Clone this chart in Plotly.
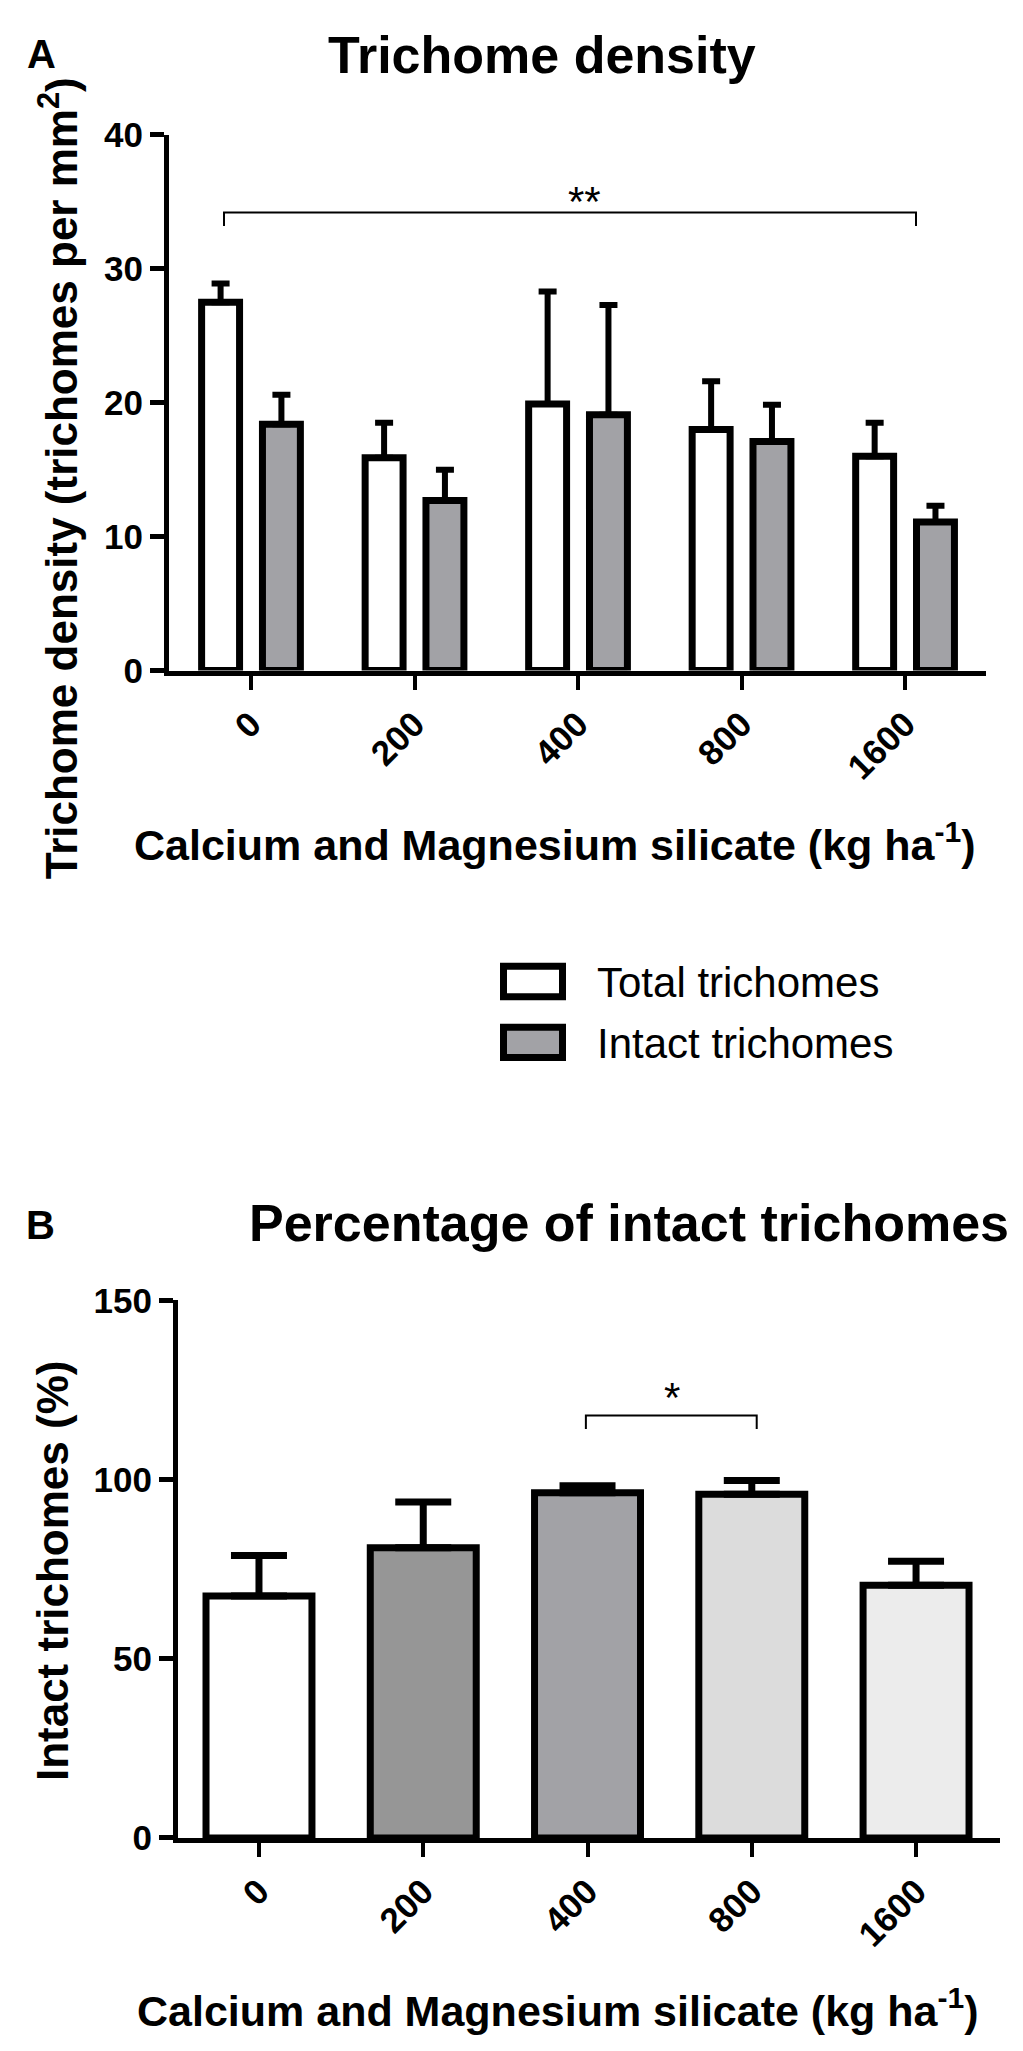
import plotly.graph_objects as go

# values
doses = ["0", "200", "400", "800", "1600"]
total = [27.5, 15.9, 19.9, 18.0, 16.0]
total_err = [1.4, 2.6, 8.4, 3.6, 2.5]
intact = [18.4, 12.7, 19.1, 17.1, 11.1]
intact_err = [2.2, 2.3, 8.2, 2.75, 1.2]
pct = [67.5, 81.0, 96.3, 95.9, 70.5]
pct_err = [11.3, 12.7, 2.0, 3.8, 6.7]
pct_colors = ["#ffffff", "#969696", "#a2a2a6", "#dcdcdc", "#ececec"]

W, H = 1023, 2051
FONT = "Liberation Sans, Arial, Helvetica, sans-serif"


def px(x):
    return x / W


def py(y):
    return (H - y) / H


fig = go.Figure()

# panel A
fig.add_trace(go.Bar(
    x=doses, y=total, name="Total trichomes", offset=-0.302, width=0.232,
    marker=dict(color="white", line=dict(color="black", width=7)),
    error_y=dict(type="data", symmetric=False, array=total_err, arrayminus=[0] * 5,
                 color="black", thickness=6, width=9),
    xaxis="x", yaxis="y", showlegend=False))
fig.add_trace(go.Bar(
    x=doses, y=intact, name="Intact trichomes", offset=0.07, width=0.232,
    marker=dict(color="#a2a2a6", line=dict(color="black", width=7)),
    error_y=dict(type="data", symmetric=False, array=intact_err, arrayminus=[0] * 5,
                 color="black", thickness=6, width=9),
    xaxis="x", yaxis="y", showlegend=False))

# panel B
fig.add_trace(go.Bar(
    x=doses, y=pct, offset=-0.3225, width=0.645,
    marker=dict(color=pct_colors, line=dict(color="black", width=7)),
    error_y=dict(type="data", symmetric=False, array=pct_err, arrayminus=[0] * 5,
                 color="black", thickness=7, width=28),
    xaxis="x2", yaxis="y2", showlegend=False))

axis_common = dict(showline=True, linecolor="black", linewidth=5, ticks="outside",
                   ticklen=14, tickcolor="black", showgrid=False, zeroline=False,
                   tickfont=dict(family=FONT, size=35, color="black", weight="bold"))

fig.update_layout(
    width=W, height=H, margin=dict(l=0, r=0, t=0, b=0),
    paper_bgcolor="white", plot_bgcolor="white",
    barmode="group",
    xaxis=dict(domain=[px(161), px(978)], range=[-0.5015, 4.495], type="category",
               tickangle=-45, tickwidth=4, anchor="y", **axis_common),
    yaxis=dict(domain=[py(655), py(109)], range=[0, 40], tickvals=[0, 10, 20, 30, 40],
               tickwidth=5, anchor="x", **axis_common),
    xaxis2=dict(domain=[px(170), px(991.5)], range=[-0.493, 4.508], type="category",
                tickangle=-45, tickwidth=4, anchor="y2", **axis_common),
    yaxis2=dict(domain=[py(1845), py(1297)], range=[0, 150], tickvals=[0, 50, 100, 150],
                tickwidth=5, anchor="x2", **axis_common),
)

# significance brackets
br = dict(color="black", width=2)
fig.add_shape(type="path", xref="x", yref="y", line=br,
              path="M -0.165,33.2 L -0.165,34.2 L 4.067,34.2 L 4.067,33.2")
fig.add_shape(type="path", xref="x2", yref="y2", line=br,
              path="M 1.99,114.1 L 1.99,117.9 L 3.03,117.9 L 3.03,114.1")
fig.add_annotation(x=2.04, y=35.0, xref="x", yref="y", text="**", showarrow=False,
                   font=dict(family=FONT, size=42, color="black"))
fig.add_annotation(x=2.514, y=122.9, xref="x2", yref="y2", text="*", showarrow=False,
                   font=dict(family=FONT, size=42, color="black"))


def label(text, x, y, size, bold=True, angle=0, xanchor="center"):
    fig.add_annotation(x=px(x), y=py(y), xref="paper", yref="paper", text=text,
                       showarrow=False, textangle=angle, xanchor=xanchor, yanchor="middle",
                       font=dict(family=FONT, size=size, color="black",
                                 weight="bold" if bold else "normal"))


label("A", 33, 27, 40)
label("Trichome density", 534, 28, 52)
label("Trichome density (trichomes per mm<sup>2</sup>)", 50, 459, 44, angle=-90)
label("Calcium and Magnesium silicate (kg ha<sup>-1</sup>)", 547, 830, 43)

# legend
for y0, fill, name in [(972, "white", "Total trichomes"), (1034, "#a2a2a6", "Intact trichomes")]:
    fig.add_shape(type="rect", xref="paper", yref="paper",
                  x0=px(495.5), x1=px(554.5), y0=py(y0 + 15.5), y1=py(y0 - 15.5),
                  fillcolor=fill, line=dict(color="black", width=7))
    label(name, 587, y0 + 1, 42, bold=False, xanchor="left")

label("B", 32, 1220, 40)
label("Percentage of intact trichomes", 621, 1218, 52)
label("Intact trichomes (%)", 44, 1573, 44, angle=-90)
label("Calcium and Magnesium silicate (kg ha<sup>-1</sup>)", 550, 2018, 43)

fig.write_html("out.html")
